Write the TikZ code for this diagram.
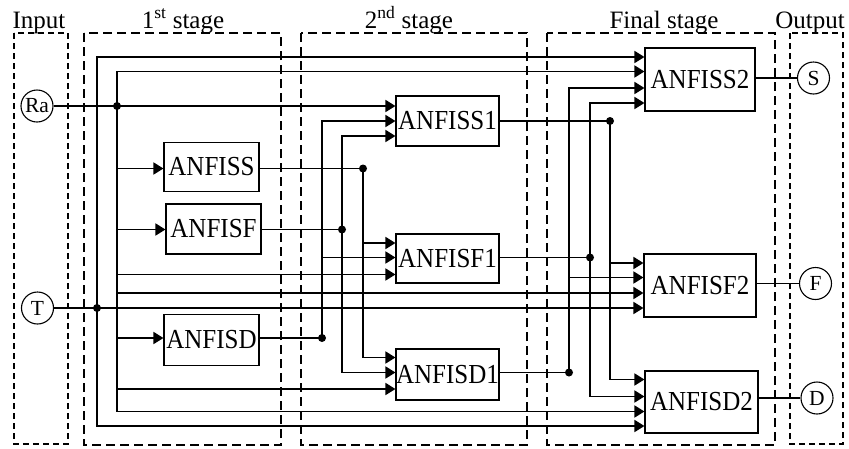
\documentclass[tikz,border=0pt]{standalone}
\usepackage{fontspec}
\setmainfont{Liberation Serif}
\usetikzlibrary{arrows.meta}
\newcommand{\tallbox}[1]{\scalebox{1}[1.1]{#1}}
\begin{document}
\begin{tikzpicture}[x=1pt,y=-1pt,
  fbox/.style={draw,line width=1.1pt,inner sep=0pt,font=\fontsize{25}{30}\selectfont},
  io/.style={draw,circle,line width=1.1pt,minimum size=32pt,inner sep=0pt,font=\fontsize{21.5}{26}\selectfont},
  stagebox/.style={draw,dash pattern=on 9pt off 5pt,line width=1.4pt},
  iobox/.style={draw,dash pattern=on 6pt off 4pt,line width=1.2pt},
  lbl/.style={anchor=base,inner sep=0pt,font=\fontsize{25}{30}\selectfont},
  wire/.style={line width=1.7pt},
  thinw/.style={line width=1.1pt},
  arr/.style={wire,-{Triangle[length=10pt,width=12pt]}},
  jdot/.style={fill=black}
]
\useasboundingbox (0,0) rectangle (849,448);

% dashed frames
\draw[iobox] (14,33) rectangle (68,444);
\draw[stagebox] (84,33) rectangle (281,445);
\draw[stagebox] (301,33) rectangle (527,445);
\draw[stagebox] (547,33) rectangle (775,445);
\draw[iobox] (790,33) rectangle (843,444);

% titles
\node[lbl] (tin) at (39,28) {Input};
\node[lbl] (tone) at (183,28) {1\textsuperscript{st} stage};
\node[lbl] (ttwo) at (409,28) {2\textsuperscript{nd} stage};
\node[lbl] (tfin) at (664,28) {Final stage};
\node[lbl] (tout) at (810,28) {Output};

% inputs / outputs
\node[io] (Ra) at (37,106) {Ra};
\node[io] (T) at (37.5,308) {T};
\node[io] (S) at (813.5,78) {S};
\node[io] (F) at (815.5,283.5) {F};
\node[io] (D) at (817,398) {D};

% boxes
\node[fbox,minimum width=95pt,minimum height=49pt] (ANFISS) at (211.5,167) {\tallbox{ANFISS}};
\node[fbox,minimum width=95pt,minimum height=50pt] (ANFISF) at (213.5,229) {\tallbox{ANFISF}};
\node[fbox,minimum width=95pt,minimum height=51pt] (ANFISD) at (211.5,340) {\tallbox{ANFISD}};
\node[fbox,minimum width=103pt,minimum height=50pt] (ANFISS1) at (447.5,121) {\tallbox{ANFISS1}};
\node[fbox,minimum width=103pt,minimum height=49pt] (ANFISF1) at (447.5,258.5) {\tallbox{ANFISF1}};
\node[fbox,minimum width=103pt,minimum height=51pt] (ANFISD1) at (447.5,374.5) {\tallbox{ANFISD1}};
\node[fbox,minimum width=110pt,minimum height=63pt] (ANFISS2) at (700,79.5) {\tallbox{ANFISS2}};
\node[fbox,minimum width=112pt,minimum height=63pt] (ANFISF2) at (700,285.5) {\tallbox{ANFISF2}};
\node[fbox,minimum width=113pt,minimum height=62pt] (ANFISD2) at (701.5,402) {\tallbox{ANFISD2}};

% junctions
\coordinate (jRa) at (117,106);
\coordinate (jT) at (97,308);
\coordinate (jS) at (363,168.5);
\coordinate (jF) at (342,229.5);
\coordinate (jD) at (322,338);
\coordinate (jS1) at (610,121);
\coordinate (jF1) at (590,257.5);
\coordinate (jD1) at (569,372.5);

% input points
\coordinate (ssi) at (ANFISS.west |- jS);
\coordinate (sfi) at (ANFISF.west |- jF);
\coordinate (sdi) at (ANFISD.west |- jD);
\coordinate (s1a) at (ANFISS1.west |- 0,106);
\coordinate (s1b) at (ANFISS1.west |- 0,121);
\coordinate (s1c) at (ANFISS1.west |- 0,136);
\coordinate (f1a) at (ANFISF1.west |- 0,243);
\coordinate (f1b) at (ANFISF1.west |- 0,257.5);
\coordinate (f1c) at (ANFISF1.west |- 0,274.5);
\coordinate (d1a) at (ANFISD1.west |- 0,357.5);
\coordinate (d1b) at (ANFISD1.west |- 0,372.5);
\coordinate (d1c) at (ANFISD1.west |- 0,389);
\coordinate (s2a) at (ANFISS2.west |- 0,57);
\coordinate (s2b) at (ANFISS2.west |- 0,71.5);
\coordinate (s2c) at (ANFISS2.west |- 0,88);
\coordinate (s2d) at (ANFISS2.west |- 0,103);
\coordinate (f2a) at (ANFISF2.west |- 0,263);
\coordinate (f2b) at (ANFISF2.west |- 0,277.5);
\coordinate (f2c) at (ANFISF2.west |- 0,293);
\coordinate (f2d) at (ANFISF2.west |- 0,308);
\coordinate (d2a) at (ANFISD2.west |- 0,379.5);
\coordinate (d2b) at (ANFISD2.west |- 0,396.5);
\coordinate (d2c) at (ANFISD2.west |- 0,411.5);
\coordinate (d2d) at (ANFISD2.west |- 0,426);

% thin lines from inputs and box outputs
\draw[thinw] (Ra) -- (jRa);
\draw[thinw] (T) -- (jT);
\draw[thinw] (ANFISS.east |- jS) -- (jS);
\draw[thinw] (ANFISF.east |- jF) -- (jF);
\draw[thinw] (ANFISD.east |- jD) -- (jD);
\draw[thinw] (ANFISS1.east |- jS1) -- (jS1);
\draw[thinw] (ANFISF1.east |- jF1) -- (jF1);
\draw[thinw] (ANFISD1.east |- jD1) -- (jD1);
\draw[thinw] (ANFISS2.east |- S) -- (S);
\draw[thinw] (ANFISF2.east |- F) -- (F);
\draw[thinw] (ANFISD2.east |- D) -- (D);

% Ra branches
\draw[arr] (jRa) -- (s1a);
\draw[arr] (jRa) |- (s2b);
\draw[arr] (jRa) |- (ssi);
\draw[arr] (jRa) |- (sfi);
\draw[arr] (jRa) |- (sdi);
\draw[arr] (jRa) |- (f1c);
\draw[arr] (jRa) |- (f2c);
\draw[arr] (jRa) |- (d1c);
\draw[arr] (jRa) |- (d2c);

% T branches
\draw[arr] (jT) |- (s2a);
\draw[arr] (jT) -- (f2d);
\draw[arr] (jT) |- (d2d);

% first stage outputs
\draw[arr] (jS) |- (f1a);
\draw[arr] (jS) |- (d1a);
\draw[arr] (jF) |- (s1c);
\draw[arr] (jF) |- (d1b);
\draw[arr] (jD) |- (s1b);
\draw[arr] (jD) |- (f1b);

% second stage outputs
\draw[arr] (jS1) |- (f2a);
\draw[arr] (jS1) |- (d2a);
\draw[arr] (jF1) |- (s2d);
\draw[arr] (jF1) |- (d2b);
\draw[arr] (jD1) |- (s2c);
\draw[arr] (jD1) |- (f2b);

% dots
\foreach \j in {jRa,jT,jS,jF,jD,jS1,jF1,jD1}
  \fill[jdot] (\j) circle (4pt);
\end{tikzpicture}
\end{document}
